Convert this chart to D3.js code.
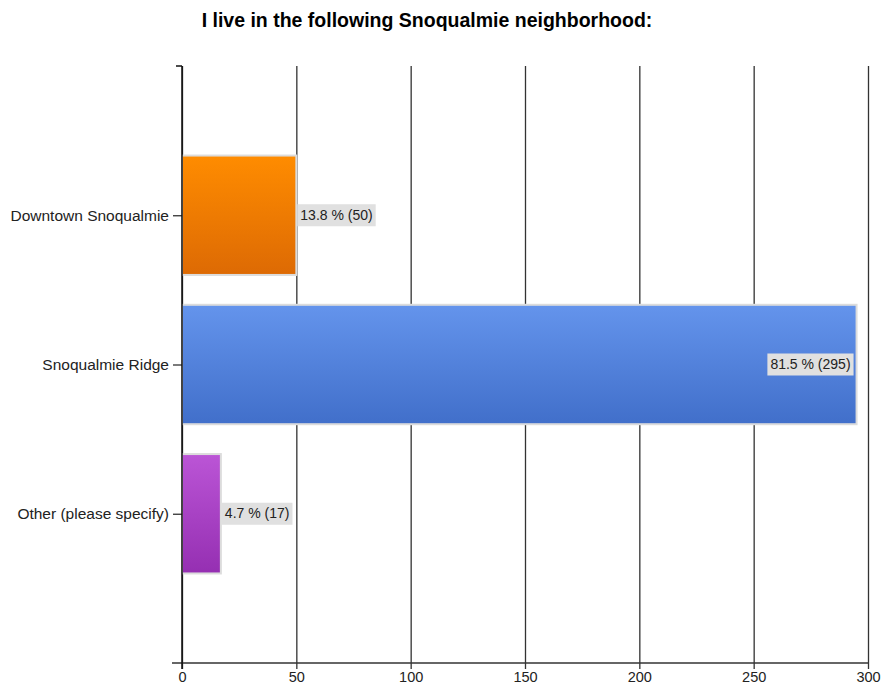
<!DOCTYPE html>
<html>
<head>
<meta charset="utf-8">
<script src="https://cdn.jsdelivr.net/npm/d3@7"></script>
<style>
  html, body { margin: 0; padding: 0; background: #fff; }
  svg text { font-family: "Liberation Sans", Arial, sans-serif; }
</style>
</head>
<body>
<svg id="chart" width="881" height="688"></svg>
<script>
// Survey responses: neighborhood of residence
const categories = ["Downtown Snoqualmie", "Snoqualmie Ridge", "Other (please specify)"];
const counts = [50, 295, 17];
const percents = [13.8, 81.5, 4.7];
const xTicks = [0, 50, 100, 150, 200, 250, 300];
const barColors = [
  ["#ff8c00", "#dd6a04"],
  ["#6494ec", "#416fca"],
  ["#bb55d6", "#952fb2"]
];

const FONT = "'Liberation Sans', Arial, sans-serif";
const svg = d3.select("#chart");
const plotLeft = 182, plotRight = 868, plotTop = 66, plotBottom = 663;

const x = d3.scaleLinear().domain([0, 300]).range([plotLeft, plotRight]);
// Categories sit on interior slots of a 5-slot point scale (empty slots at each end)
const slots = ["_top", ...categories, "_bottom"];
const y = d3.scalePoint().domain(slots).range([plotTop, plotBottom]);
const barH = y.step() * 0.8;

// Gradients
const defs = svg.append("defs");
barColors.forEach((c, i) => {
  const g = defs.append("linearGradient").attr("id", "grad" + i)
    .attr("x1", 0).attr("y1", 0).attr("x2", 0).attr("y2", 1);
  g.append("stop").attr("offset", "0%").attr("stop-color", c[0]);
  g.append("stop").attr("offset", "100%").attr("stop-color", c[1]);
});

// Title
svg.append("text")
  .attr("x", 427).attr("y", 27)
  .attr("text-anchor", "middle")
  .attr("font-size", 19.5).attr("font-weight", "bold")
  .attr("fill", "#000")
  .text("I live in the following Snoqualmie neighborhood:");

// Vertical gridlines with ticks below the x axis
const xAxis = d3.axisBottom(x).tickValues(xTicks).tickSize(plotBottom - plotTop + 6).tickPadding(3);
const gx = svg.append("g").attr("transform", `translate(0,${plotTop})`).call(xAxis);
gx.select(".domain").remove();
gx.selectAll(".tick line").attr("stroke", "#333").attr("stroke-width", 1.3);
gx.selectAll(".tick text").attr("font-size", 14.5).attr("fill", "#222")
  .style("font-family", FONT);

// Horizontal axis baseline
svg.append("line")
  .attr("x1", 172).attr("x2", plotRight).attr("y1", plotBottom).attr("y2", plotBottom)
  .attr("stroke", "#333").attr("stroke-width", 1.3);

// Bars
const bars = svg.append("g");
categories.forEach((cat, i) => {
  const cy = y(cat);
  bars.append("rect")
    .attr("x", x(0))
    .attr("y", cy - barH / 2)
    .attr("width", x(counts[i]) - x(0))
    .attr("height", barH)
    .attr("fill", `url(#grad${i})`)
    .attr("stroke", "#dcdcdc").attr("stroke-width", 2);
});

// Y axis
const yAxis = d3.axisLeft(y).tickValues(categories).tickSize(9).tickPadding(4);
const gy = svg.append("g").attr("transform", `translate(${plotLeft},0)`).call(yAxis);
gy.select(".domain").remove();
gy.selectAll(".tick line").attr("stroke", "#333").attr("stroke-width", 1.3);
gy.selectAll(".tick text").attr("font-size", 15.5).attr("fill", "#222")
  .style("font-family", FONT);
svg.append("line")
  .attr("x1", plotLeft).attr("x2", plotLeft).attr("y1", plotTop).attr("y2", plotBottom + 6)
  .attr("stroke", "#111").attr("stroke-width", 1.5);
svg.append("line")
  .attr("x1", plotLeft - 6).attr("x2", plotLeft).attr("y1", plotTop).attr("y2", plotTop)
  .attr("stroke", "#111").attr("stroke-width", 1.5);

// Value labels
const labels = svg.append("g");
categories.forEach((cat, i) => {
  const txt = `${percents[i].toFixed(1)} % (${counts[i]})`;
  const cy = y(cat);
  const g = labels.append("g");
  const t = g.append("text")
    .attr("font-size", 14).attr("fill", "#222")
    .attr("dominant-baseline", "middle")
    .text(txt);
  const w = t.node().getComputedTextLength();
  const padX = 3, boxH = 22;
  const inside = counts[i] > 200;
  const bx = inside ? x(counts[i]) - w - 2 * padX - 3 : x(counts[i]) + 1;
  g.insert("rect", "text")
    .attr("x", bx).attr("y", cy - boxH / 2)
    .attr("width", w + 2 * padX).attr("height", boxH)
    .attr("fill", "#e0e0e0");
  t.attr("x", bx + padX).attr("y", cy + 1);
});
</script>
</body>
</html>
